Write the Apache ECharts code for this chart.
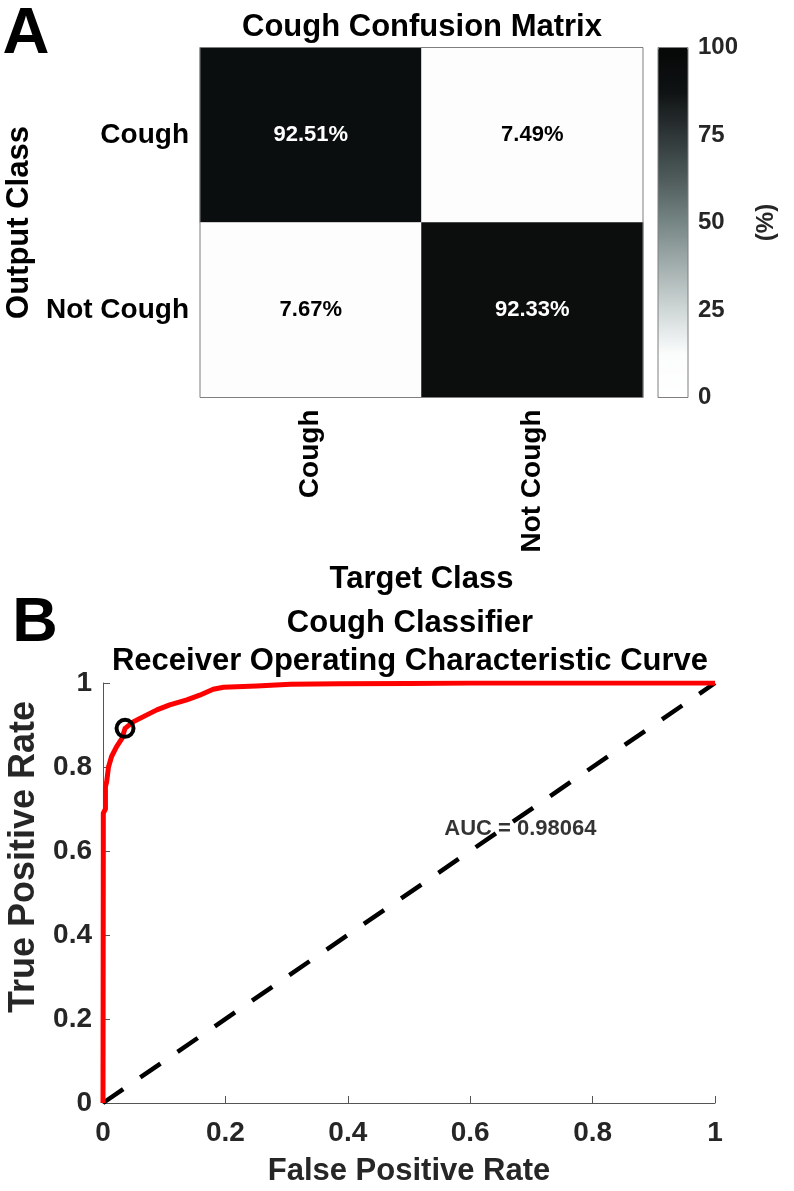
<!DOCTYPE html>
<html>
<head>
<meta charset="utf-8">
<script src="https://cdn.jsdelivr.net/npm/echarts@6/dist/echarts.min.js"></script>
<style>
html,body{margin:0;padding:0;background:#ffffff;}
#c{width:794px;height:1191px;}
</style>
</head>
<body>
<div id="c"></div>
<script>
// ---------- data ----------
const classes = ['Cough', 'Not Cough'];
const cmRowCough = [92.51, 7.49];      // output Cough, target Cough / Not Cough
const cmRowNotCough = [7.67, 92.33];   // output Not Cough, target Cough / Not Cough
const colorbarMin = 0;
const colorbarMax = 100;
const colorbarStep = 25;
const rocFpr = [0, 0.0005, 0.0005, 0.004, 0.004, 0.006, 0.009, 0.014, 0.022, 0.031, 0.036, 0.05, 0.066, 0.088, 0.109, 0.137, 0.158, 0.18, 0.197, 0.251, 0.306, 0.387, 0.5, 0.6, 1];
const rocTpr = [0, 0.6, 0.69, 0.70, 0.753, 0.765, 0.80, 0.825, 0.848, 0.868, 0.892, 0.908, 0.92, 0.936, 0.948, 0.96, 0.971, 0.985, 0.99, 0.993, 0.997, 0.998, 0.999, 1, 1];
const optimalPoint = [0.036, 0.892];
const chanceFpr = [0, 1];
const chanceTpr = [0, 1];
const aucText = 'AUC = 0.98064';
const aucPos = [0.682, 0.652];

// ---------- build ----------
const FONT = "'Liberation Sans', Arial, Helvetica, sans-serif";
const cmRows = [cmRowCough, cmRowNotCough];
const heatData = [];
cmRows.forEach((row, yi) => {
  row.forEach((v, xi) => {
    heatData.push({
      value: [xi, yi, v],
      label: { color: v > 50 ? '#ffffff' : '#000000' }
    });
  });
});
const rocData = rocFpr.map((x, i) => [x, rocTpr[i]]);
const chanceData = chanceFpr.map((x, i) => [x, chanceTpr[i]]);

const txt = (size, color) => ({ fontFamily: FONT, fontWeight: 'bold', fontSize: size, color: color || '#000' });
const gtxt = (text, x, y, size) => ({
  type: 'text', x: x, y: y, silent: true,
  style: { text: text, textAlign: 'center', textVerticalAlign: 'middle', font: 'bold ' + size + 'px ' + FONT, fill: '#000' }
});

const chart = echarts.init(document.getElementById('c'), null, { renderer: 'canvas' });
chart.setOption({
  backgroundColor: '#ffffff',
  animation: false,
  textStyle: { fontFamily: FONT },
  graphic: [
    gtxt('A', 26, 35, 65),
    gtxt('Cough Confusion Matrix', 422, 27, 31),
    gtxt('B', 35, 624, 63),
    gtxt('Cough Classifier', 410, 623, 31),
    gtxt('Receiver Operating Characteristic Curve', 410, 661, 31)
  ],
  grid: [
    { left: 200, top: 47.5, width: 443, height: 350, show: true, borderColor: '#7f7f7f', borderWidth: 1, backgroundColor: 'rgba(0,0,0,0)', z: 10, outerBoundsMode: 'none' },
    { left: 658, top: 47.5, width: 30, height: 350, show: true, borderColor: '#7f7f7f', borderWidth: 1, backgroundColor: 'rgba(0,0,0,0)', z: 10, outerBoundsMode: 'none' },
    { left: 103, top: 683, width: 612, height: 420, outerBoundsMode: 'none' }
  ],
  xAxis: [
    {
      gridIndex: 0, type: 'category', data: classes,
      axisLine: { show: false }, axisTick: { show: false }, splitLine: { show: false },
      axisLabel: Object.assign({ rotate: 90, margin: 12 }, txt(28)),
      name: 'Target Class', nameLocation: 'middle', nameGap: 166,
      nameTextStyle: txt(31)
    },
    { gridIndex: 1, type: 'value', show: false, min: 0, max: 1, axisLine: { onZero: false } },
    {
      gridIndex: 2, type: 'value', min: 0, max: 1, interval: 0.2,
      axisLine: { show: true, onZero: false, lineStyle: { color: '#555', width: 1 } },
      axisTick: { show: true, inside: true, length: 7, lineStyle: { color: '#555' } },
      splitLine: { show: false },
      axisLabel: Object.assign({ margin: 16 }, txt(28, '#262626')),
      name: 'False Positive Rate', nameLocation: 'middle', nameGap: 53,
      nameTextStyle: txt(31, '#262626')
    }
  ],
  yAxis: [
    {
      gridIndex: 0, type: 'category', data: classes, inverse: true,
      axisLine: { show: false }, axisTick: { show: false }, splitLine: { show: false },
      axisLabel: Object.assign({ margin: 11 }, txt(28)),
      name: 'Output Class', nameLocation: 'middle', nameGap: 163,
      nameTextStyle: txt(31)
    },
    {
      gridIndex: 1, type: 'value', min: colorbarMin, max: colorbarMax, interval: colorbarStep, position: 'right',
      axisLine: { show: false, onZero: false },
      axisTick: { show: false },
      splitLine: { show: false },
      axisLabel: Object.assign({ margin: 10 }, txt(24, '#262626')),
      name: '(%)', nameLocation: 'middle', nameRotate: 90, nameGap: 66,
      nameTextStyle: txt(24, '#262626')
    },
    {
      gridIndex: 2, type: 'value', min: 0, max: 1, interval: 0.2,
      axisLine: { show: true, onZero: false, lineStyle: { color: '#555', width: 1 } },
      axisTick: { show: true, inside: true, length: 7, lineStyle: { color: '#555' } },
      splitLine: { show: false },
      axisLabel: Object.assign({ margin: 11 }, txt(28, '#262626')),
      name: 'True Positive Rate', nameLocation: 'middle', nameGap: 54,
      nameTextStyle: Object.assign(txt(36, '#262626'), { padding: [0, 0, 0, 72] })
    }
  ],
  visualMap: {
    type: 'continuous', min: colorbarMin, max: colorbarMax, seriesIndex: 0,
    calculable: false, hoverLink: false, orient: 'vertical',
    left: 658, top: 47.5, itemWidth: 30, itemHeight: 350, padding: 0,
    inRange: { color: ['#ffffff', '#fbfcfc', '#d0d7d7', '#a3afae', '#768685', '#4f5b5b', '#2e3637', '#0f1213', '#060707'] }
  },
  series: [
    {
      type: 'heatmap', xAxisIndex: 0, yAxisIndex: 0, data: heatData,
      silent: true,
      label: { show: true, fontFamily: FONT, fontWeight: 'bold', fontSize: 22, formatter: p => p.value[2].toFixed(2) + '%' },
      itemStyle: { borderWidth: 0 }
    },
    {
      type: 'line', xAxisIndex: 2, yAxisIndex: 2, data: chanceData,
      showSymbol: false, silent: true, z: 2,
      lineStyle: { color: '#000', width: 4.5, type: [24.5, 20.7], dashOffset: 0, cap: 'butt' }
    },
    {
      type: 'line', xAxisIndex: 2, yAxisIndex: 2, data: rocData,
      showSymbol: false, silent: true, z: 3,
      lineStyle: { color: '#ff0000', width: 5, join: 'round' }
    },
    {
      type: 'scatter', xAxisIndex: 2, yAxisIndex: 2, data: [optimalPoint],
      symbol: 'circle', symbolSize: 17, silent: true, z: 5,
      itemStyle: { color: 'rgba(0,0,0,0)', borderColor: '#000', borderWidth: 4, opacity: 1 }
    },
    {
      type: 'scatter', xAxisIndex: 2, yAxisIndex: 2, data: [aucPos],
      symbolSize: 1, silent: true, z: 5,
      itemStyle: { color: 'rgba(0,0,0,0)' },
      label: { show: true, position: 'inside', formatter: aucText, fontFamily: FONT, fontWeight: 'bold', fontSize: 22, color: '#000' }
    }
  ]
});
</script>
</body>
</html>
